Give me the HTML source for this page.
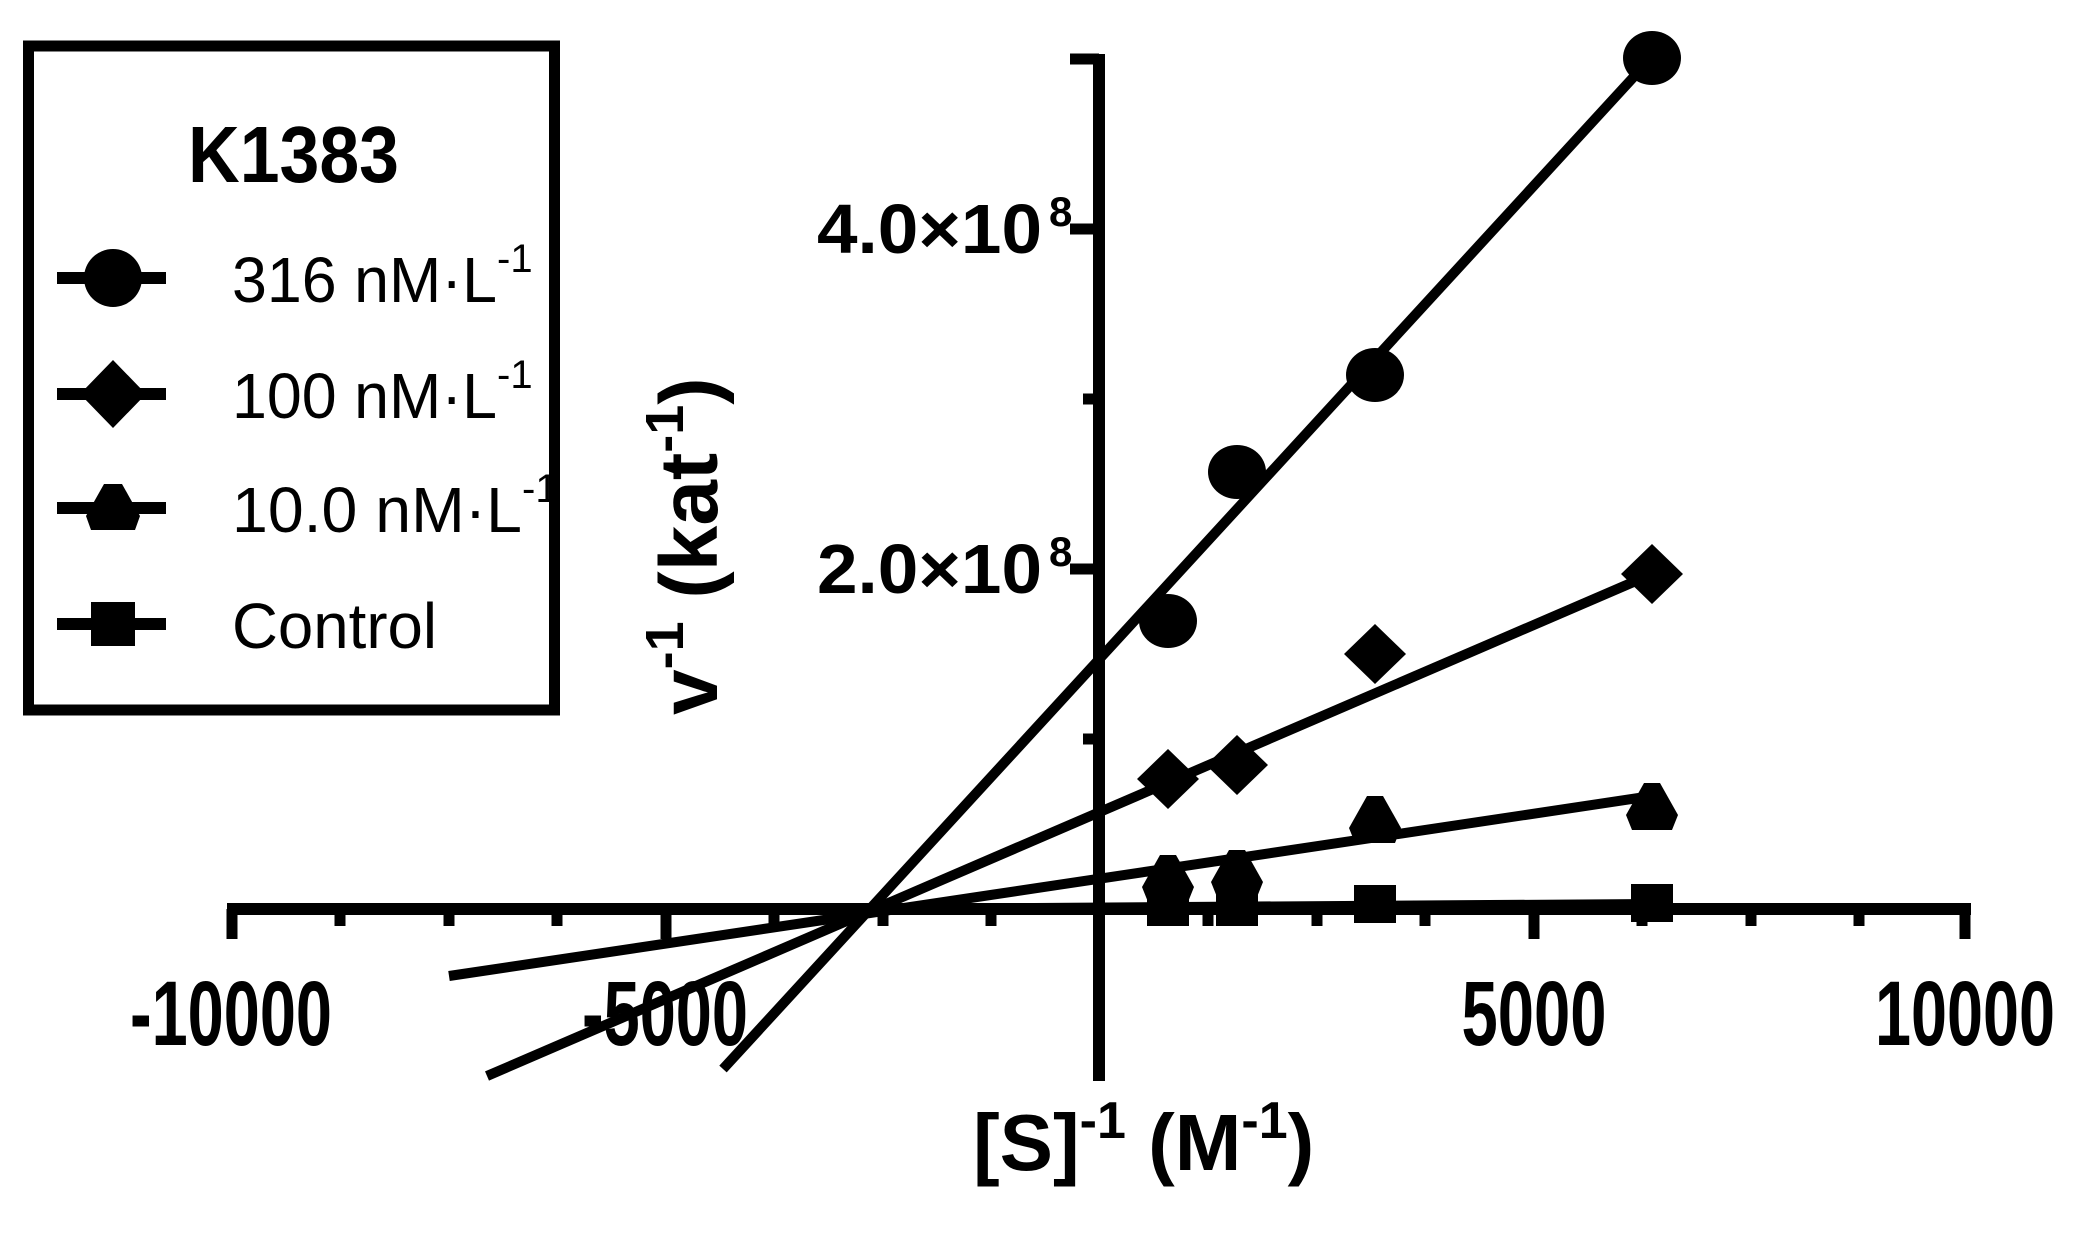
<!DOCTYPE html>
<html><head><meta charset="utf-8"><style>html,body{margin:0;padding:0;background:#fff}svg{display:block}</style></head>
<body>
<svg width="2088" height="1240" viewBox="0 0 2088 1240" xmlns="http://www.w3.org/2000/svg" font-family="Liberation Sans, Arial, sans-serif">
<rect width="2088" height="1240" fill="#fff"/>
<!-- legend -->
<rect x="28.5" y="46" width="526" height="664" fill="none" stroke="#000" stroke-width="11"/>
<text x="188" y="182" font-size="80" font-weight="bold" textLength="211" lengthAdjust="spacingAndGlyphs">K1383</text>
<g stroke="#000" stroke-width="12">
<line x1="57" y1="278" x2="166" y2="278"/>
<line x1="57" y1="394" x2="166" y2="394"/>
<line x1="57" y1="508" x2="166" y2="508"/>
<line x1="57" y1="624" x2="166" y2="624"/>
</g>
<ellipse cx="113" cy="278" rx="29" ry="29"/>
<polygon points="113,360 146,394 113,428 80,394"/>
<polygon points="104,484 122,484 140,516 135,530 91,530 86,516"/>
<rect x="91" y="602" width="44" height="44"/>
<g font-size="64">
<text x="232" y="302" textLength="265" lengthAdjust="spacingAndGlyphs">316 nM·L</text><text x="497" y="272" font-size="40">-1</text>
<text x="232" y="418" textLength="265" lengthAdjust="spacingAndGlyphs">100 nM·L</text><text x="497" y="388" font-size="40">-1</text>
<text x="232" y="532" textLength="290" lengthAdjust="spacingAndGlyphs">10.0 nM·L</text><text x="522" y="502" font-size="40">-1</text>
<text x="232" y="648" textLength="205" lengthAdjust="spacingAndGlyphs">Control</text>
</g>
<!-- axes -->
<g stroke="#000" stroke-width="12" fill="none">
<line x1="227" y1="909" x2="1971" y2="909"/>
<line x1="1099" y1="54" x2="1099" y2="1081"/>
</g>
<g stroke="#000" stroke-width="11">
<line x1="232" y1="909" x2="232" y2="939"/>
<line x1="666" y1="909" x2="666" y2="939"/>
<line x1="1534" y1="909" x2="1534" y2="939"/>
<line x1="1965" y1="909" x2="1965" y2="939"/>
<line x1="340" y1="909" x2="340" y2="926"/>
<line x1="449" y1="909" x2="449" y2="926"/>
<line x1="557" y1="909" x2="557" y2="926"/>
<line x1="774" y1="909" x2="774" y2="926"/>
<line x1="883" y1="909" x2="883" y2="926"/>
<line x1="991" y1="909" x2="991" y2="926"/>
<line x1="1208" y1="909" x2="1208" y2="926"/>
<line x1="1317" y1="909" x2="1317" y2="926"/>
<line x1="1425" y1="909" x2="1425" y2="926"/>
<line x1="1642" y1="909" x2="1642" y2="926"/>
<line x1="1751" y1="909" x2="1751" y2="926"/>
<line x1="1859" y1="909" x2="1859" y2="926"/>
<line x1="1070" y1="59" x2="1099" y2="59"/>
<line x1="1070" y1="229" x2="1099" y2="229"/>
<line x1="1070" y1="569" x2="1099" y2="569"/>
<line x1="1083" y1="399" x2="1099" y2="399"/>
<line x1="1083" y1="739" x2="1099" y2="739"/>
</g>
<!-- tick labels -->
<g font-size="92" font-weight="bold" text-anchor="middle">
<text x="231" y="1045" textLength="202" lengthAdjust="spacingAndGlyphs">-10000</text>
<text x="665" y="1045" textLength="166" lengthAdjust="spacingAndGlyphs">-5000</text>
<text x="1534" y="1045" textLength="145" lengthAdjust="spacingAndGlyphs">5000</text>
<text x="1965" y="1045" textLength="180" lengthAdjust="spacingAndGlyphs">10000</text>
</g>
<g font-weight="bold">
<text x="817" y="253" font-size="70" textLength="225" lengthAdjust="spacingAndGlyphs">4.0×10</text><text x="1049" y="226" font-size="42">8</text>
<text x="817" y="593" font-size="70" textLength="225" lengthAdjust="spacingAndGlyphs">2.0×10</text><text x="1049" y="566" font-size="42">8</text>
</g>
<!-- axis titles -->
<text x="973" y="1170" font-size="80" font-weight="bold">[S]<tspan font-size="52" dy="-32">-1</tspan><tspan dy="32"> (M</tspan><tspan font-size="52" dy="-32">-1</tspan><tspan dy="32">)</tspan></text>
<text transform="translate(717,715) rotate(-90)" font-size="82" font-weight="bold">v<tspan font-size="54" dy="-34">-1</tspan><tspan dy="34"> (kat</tspan><tspan font-size="54" dy="-34">-1</tspan><tspan dy="34">)</tspan></text>
<!-- fit lines -->
<g stroke="#000" stroke-width="10">
<line x1="723" y1="1069" x2="1652" y2="57"/>
<line x1="487" y1="1076" x2="1652" y2="574"/>
<line x1="449" y1="976" x2="1652" y2="796"/>
<line x1="870" y1="909" x2="1652" y2="904"/>
</g>
<!-- data -->
<g fill="#000">
<ellipse cx="1168" cy="621" rx="29" ry="27"/>
<ellipse cx="1237" cy="472" rx="29" ry="27"/>
<ellipse cx="1375" cy="375" rx="29" ry="27"/>
<ellipse cx="1652" cy="58" rx="29" ry="27"/>
<polygon points="1168,749 1199,779 1168,809 1137,779"/>
<polygon points="1237,735 1268,765 1237,795 1206,765"/>
<polygon points="1375,624 1406,654 1375,684 1344,654"/>
<polygon points="1652,544 1683,574 1652,604 1621,574"/>
<polygon points="1160,855 1176,855 1194,887 1188,902 1148,902 1142,887"/>
<polygon points="1229,850 1245,850 1263,882 1257,897 1217,897 1211,882"/>
<polygon points="1367,796 1383,796 1401,828 1395,843 1355,843 1349,828"/>
<polygon points="1644,783 1660,783 1678,815 1672,830 1632,830 1626,815"/>
<rect x="1147" y="886" width="42" height="40"/>
<rect x="1216" y="886" width="42" height="40"/>
<rect x="1354" y="885" width="42" height="38"/>
<rect x="1631" y="884" width="42" height="38"/>
</g>
</svg>
</body></html>
